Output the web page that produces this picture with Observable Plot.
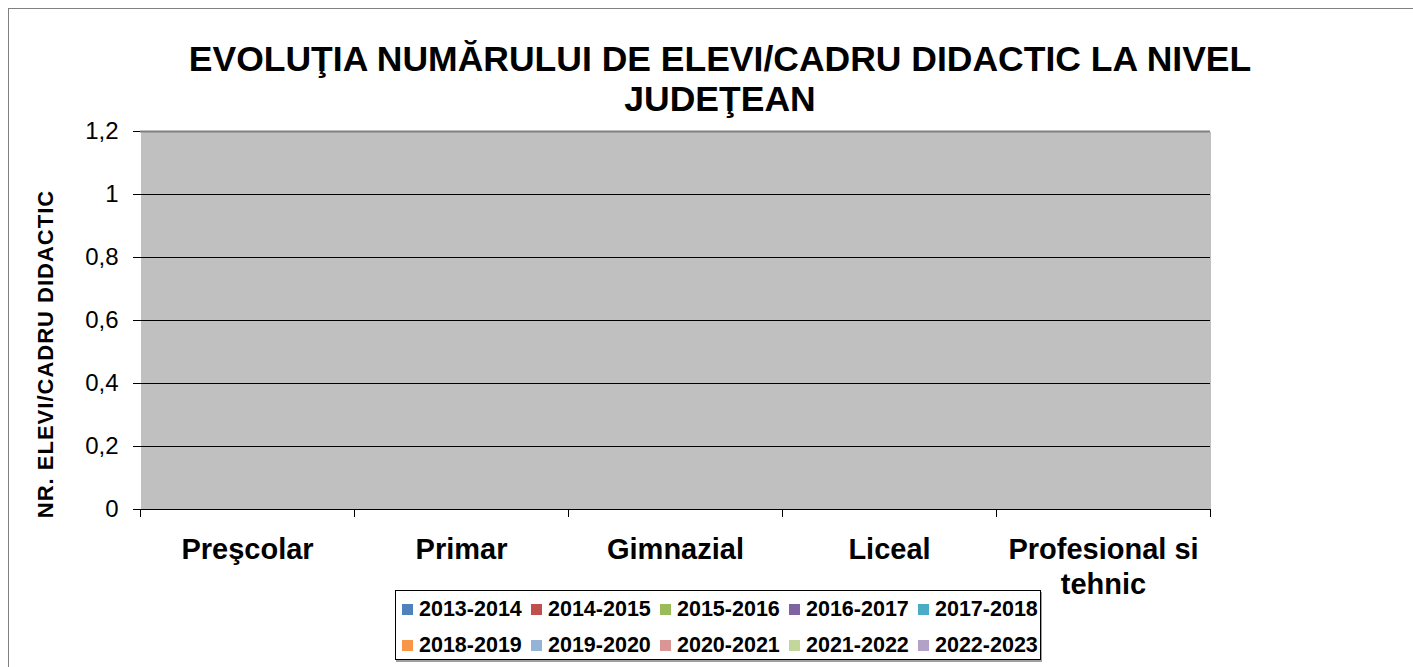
<!DOCTYPE html>
<html>
<head>
<meta charset="utf-8">
<script src="https://cdn.jsdelivr.net/npm/d3@7"></script>
<script src="https://cdn.jsdelivr.net/npm/@observablehq/plot@0.6"></script>
<style>
html, body { margin: 0; padding: 0; background: #fff; }
body { width: 1413px; height: 667px; overflow: hidden; position: relative; font-family: "Liberation Sans", Arial, sans-serif; color: #000; }
#frame { position: absolute; left: 8px; top: 8px; width: 1430px; height: 720px; border: 1px solid #808080; box-sizing: border-box; }
#title { position: absolute; left: 720px; top: 39px; transform: translateX(-50%); white-space: nowrap; text-align: center; font-weight: bold; font-size: 35.5px; line-height: 40px; }
#ylabel { position: absolute; left: 46px; top: 354px; transform: translate(-50%, -50%) rotate(-90deg); white-space: nowrap; font-weight: bold; font-size: 22px; letter-spacing: 1px; }
#chart { position: absolute; left: 0; top: 120px; }
#legend { position: absolute; left: 395px; top: 590px; width: 646px; height: 70px; border: 1px solid #000; box-sizing: border-box; box-shadow: 1px 2px 0 #a0a0a0; background: #fff; }
.item { position: absolute; display: flex; align-items: center; height: 24px; font-weight: bold; font-size: 21.5px; white-space: nowrap; }
.sw { width: 11px; height: 11px; margin-right: 6px; flex: none; }
</style>
</head>
<body>
<div id="frame"></div>
<div id="title">EVOLUŢIA NUMĂRULUI DE ELEVI/CADRU DIDACTIC LA NIVEL<br>JUDEŢEAN</div>
<div id="ylabel">NR. ELEVI/CADRU DIDACTIC</div>
<div id="chart"></div>
<div id="legend"></div>
<script>
// ---- data ----
const categories = ["Preşcolar", "Primar", "Gimnazial", "Liceal", "Profesional si tehnic"];
const seriesNames = ["2013-2014", "2014-2015", "2015-2016", "2016-2017", "2017-2018",
                     "2018-2019", "2019-2020", "2020-2021", "2021-2022", "2022-2023"];
// values per series (one per category) – all bars are empty (0) in the picture
const v2013 = [0, 0, 0, 0, 0];
const v2014 = [0, 0, 0, 0, 0];
const v2015 = [0, 0, 0, 0, 0];
const v2016 = [0, 0, 0, 0, 0];
const v2017 = [0, 0, 0, 0, 0];
const v2018 = [0, 0, 0, 0, 0];
const v2019 = [0, 0, 0, 0, 0];
const v2020 = [0, 0, 0, 0, 0];
const v2021 = [0, 0, 0, 0, 0];
const v2022 = [0, 0, 0, 0, 0];
const seriesValues = [v2013, v2014, v2015, v2016, v2017, v2018, v2019, v2020, v2021, v2022];
const colors = ["#4F81BD", "#C0504D", "#9BBB59", "#8064A2", "#4BACC6",
                "#F79646", "#95B3D7", "#D99694", "#C3D69B", "#B3A2C7"];
const yTicks = [0, 0.2, 0.4, 0.6, 0.8, 1, 1.2];

const rows = seriesNames.flatMap((s, j) =>
  categories.map((c, i) => ({category: c, series: s, value: seriesValues[j][i]})));

// ---- layout ----
const W = 1413, H = 475, mL = 140, mR = 203, mT = 11, mB = 86;
const facetW = (W - mL - mR) / categories.length;
const fmt = d => String(d).replace(".", ",");

const chart = Plot.plot({
  width: W, height: H,
  marginTop: mT, marginBottom: mB, marginLeft: mL, marginRight: mR,
  style: {fontFamily: '"Liberation Sans", Arial, sans-serif', fontSize: "24px", color: "#000", background: "transparent", overflow: "visible"},
  fx: {domain: categories, padding: 0, label: null},
  x: {domain: seriesNames, paddingInner: 0, paddingOuter: 0.75, axis: null},
  y: {domain: [0, 1.2]},
  color: {domain: seriesNames, range: colors},
  marks: [
    Plot.frame({fill: "#c0c0c0", stroke: "none", shapeRendering: "crispEdges", insetRight: -0.5}),
    Plot.ruleY(yTicks.filter(d => d < 1.2), {stroke: "#000", strokeWidth: 1}),
    Plot.ruleY([1.2], {stroke: "#808080", strokeWidth: 2}),
    Plot.barY(rows, {fx: "category", x: "series", y: "value", fill: "series"}),
    Plot.axisY({ticks: yTicks, tickSize: 7, tickPadding: 15, tickFormat: fmt, fontSize: 24, label: null, line: true}),
    Plot.axisY({anchor: "right", ticks: [], label: null, line: true, stroke: "#808080", strokeWidth: 2}),
    Plot.axisFx({anchor: "bottom", tickSize: 8, text: null, label: null, dx: -facetW / 2}),
    Plot.axisFx({anchor: "bottom", ticks: categories.slice(-1), tickSize: 8, text: null, label: null, dx: facetW / 2}),
    Plot.text(categories, {fx: d => d, text: d => d, frameAnchor: "bottom", lineAnchor: "top", dy: 25,
      fontSize: 29, fontWeight: "bold", lineWidth: 8, lineHeight: 1.2, fill: "#000"})
  ]
});
document.getElementById("chart").appendChild(chart);

// ---- legend ----
const legend = document.getElementById("legend");
seriesNames.forEach((s, i) => {
  const item = document.createElement("div");
  item.className = "item";
  item.style.left = (6 + 129 * (i % 5)) + "px";
  item.style.top = (6 + 36 * Math.floor(i / 5)) + "px";
  const sw = document.createElement("span");
  sw.className = "sw";
  sw.style.background = colors[i];
  const t = document.createElement("span");
  t.textContent = s;
  item.appendChild(sw);
  item.appendChild(t);
  legend.appendChild(item);
});
</script>
</body>
</html>
